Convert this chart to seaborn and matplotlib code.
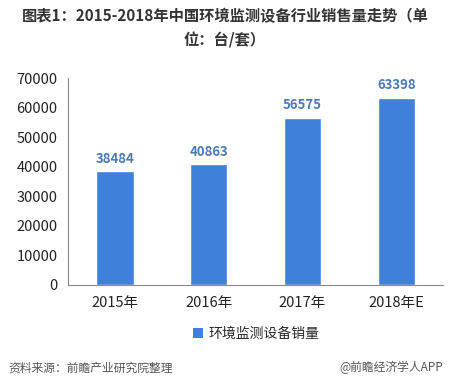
import matplotlib
matplotlib.use("Agg")
import matplotlib.pyplot as plt
from matplotlib.patches import Patch
import pandas as pd
import seaborn as sns

# data
years = ["2015年", "2016年", "2017年", "2018年E"]
sales = [38484, 40863, 56575, 63398]
series_name = "环境监测设备销量"

bar_color = "#3F80DB"
label_color = "#4A7AB8"

sns.set_style("white")
plt.rcParams['font.family'] = ['Noto Sans CJK SC', 'DejaVu Sans']

df = pd.DataFrame({"year": years, "sales": sales})

fig = plt.figure(figsize=(4.74, 3.81), dpi=100)
ax = fig.add_axes([0.1435, 0.252, 0.7915, 0.543])

sns.barplot(data=df, x="year", y="sales", color=bar_color, width=0.4,
            saturation=1, ax=ax)

# value labels above bars
for i, v in enumerate(sales):
    ax.text(i, v + 1800, str(v), ha="center", va="bottom",
            fontsize=9.5, fontweight="bold", color=label_color)

ax.set_ylim(0, 70000)
ax.set_xlim(-0.5, 3.5)
ax.set_yticks(range(0, 70001, 10000))
ax.set_xlabel("")
ax.set_ylabel("")

# category boundary ticks on x axis
ax.set_xticks([-0.5, 0.5, 1.5, 2.5, 3.5], minor=False)
ax.set_xticklabels([])
ax.set_xticks(range(len(years)), minor=True)
ax.set_xticklabels(years, minor=True)
ax.tick_params(axis="x", which="minor", length=0, labelsize=10.5, pad=8, colors="#222222")
ax.tick_params(axis="x", which="major", length=4, direction="out", color="#888888")
ax.tick_params(axis="y", length=4, direction="out", color="#888888", labelsize=10.5,
               labelcolor="#222222")

for s in ["top", "right"]:
    ax.spines[s].set_visible(False)
for s in ["left", "bottom"]:
    ax.spines[s].set_color("#888888")
    ax.spines[s].set_linewidth(0.8)

# legend
handle = Patch(facecolor=bar_color, edgecolor="none", label=series_name)
fig.legend(handles=[handle], loc="center", bbox_to_anchor=(0.54, 0.123),
           frameon=False, fontsize=10, handlelength=0.7, handleheight=0.7,
           handletextpad=0.4)

# title
fig.text(0.476, 0.958, "图表1：2015-2018年中国环境监测设备行业销售量走势（单",
         ha="center", va="center", fontsize=11, fontweight="bold", color="#333333")
fig.text(0.474, 0.895, "位：台/套）", ha="center", va="center",
         fontsize=11, fontweight="bold", color="#333333")

# footer
fig.text(0.017, 0.035, "资料来源：前瞻产业研究院整理", ha="left", va="center",
         fontsize=8.5, style="italic", color="#555555")
fig.text(0.935, 0.035, "@前瞻经济学人APP", ha="right", va="center",
         fontsize=8.5, color="#555555")

fig.savefig("out.png", dpi=100)
